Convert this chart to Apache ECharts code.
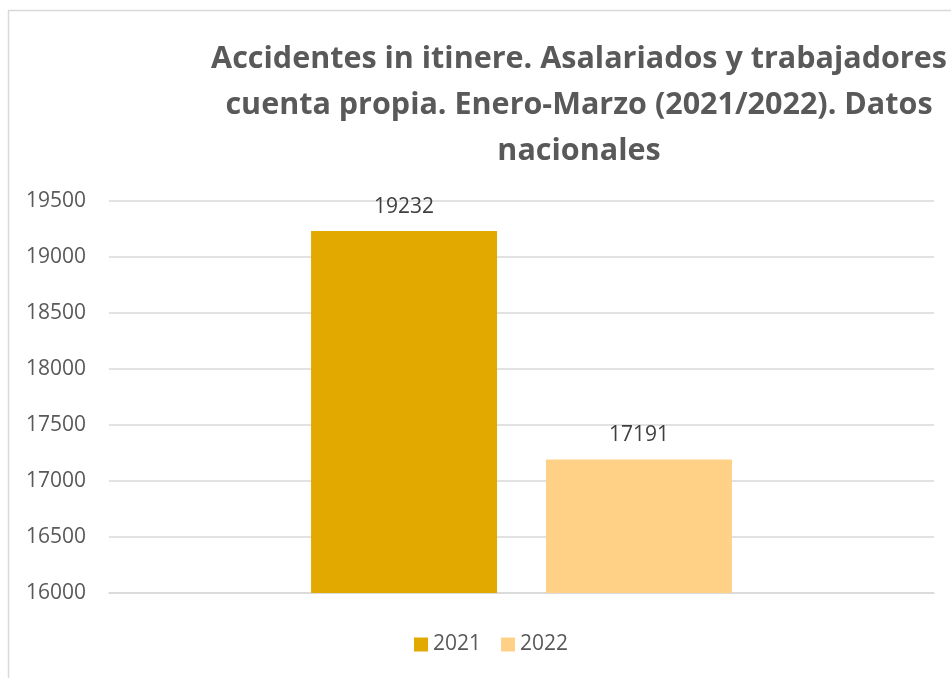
<!DOCTYPE html>
<html><head><meta charset="utf-8">
<script src="https://cdn.jsdelivr.net/npm/echarts@6/dist/echarts.min.js"></script>
<style>html,body{margin:0;padding:0;background:#fff}#c{width:951px;height:678px}</style>
</head><body><div id="c"></div>
<script>
const titleText = 'Accidentes in itinere. Asalariados y trabajadores\ncuenta propia. Enero-Marzo (2021/2022). Datos\nnacionales';
const categories = [''];
const seriesNames = ['2021', '2022'];
const values2021 = [19232];
const values2022 = [17191];
const yMin = 16000, yMax = 19500, yStep = 500;

const chart = echarts.init(document.getElementById('c'));
const font = 'Open Sans';
chart.setOption({
  animation: false,
  backgroundColor: '#fff',
  graphic: [{
    type: 'rect', shape: {x: 8.5, y: 10.5, width: 1200, height: 1000},
    style: {fill: 'none', stroke: '#d9d9d9', lineWidth: 1.5}, silent: true
  }],
  title: {
    text: titleText, left: 574, top: 31, textAlign: 'center',
    textStyle: {fontFamily: font, fontWeight: 'bold', fontSize: 30.5, color: '#595959', lineHeight: 46}
  },
  legend: {
    data: seriesNames, left: 414, top: 634, itemWidth: 14, itemHeight: 14, itemGap: 20,
    icon: 'rect', textStyle: {fontFamily: font, fontSize: 21, color: '#595959'}, padding: [0, 0, 0, 0]
  },
  grid: {left: 109, right: 17, top: 201, bottom: 85},
  xAxis: {
    type: 'category', data: categories,
    axisLine: {lineStyle: {color: '#d9d9d9', width: 1.5}}, axisTick: {show: false}, axisLabel: {show: false}
  },
  yAxis: {
    type: 'value', min: yMin, max: yMax, interval: yStep,
    axisLine: {show: false}, axisTick: {show: false},
    axisLabel: {fontFamily: font, fontSize: 21, color: '#595959', margin: 23, formatter: v => String(v)},
    splitLine: {lineStyle: {color: '#d9d9d9', width: 1.5}}
  },
  series: [
    {name: seriesNames[0], type: 'bar', data: values2021, barWidth: 186, barGap: '26.3%',
     itemStyle: {color: '#E2AA00'},
     label: {show: true, position: 'top', distance: 14, fontFamily: font, fontSize: 21, color: '#404040'}},
    {name: seriesNames[1], type: 'bar', data: values2022, barWidth: 186,
     itemStyle: {color: '#FFD187'},
     label: {show: true, position: 'top', distance: 14, fontFamily: font, fontSize: 21, color: '#404040'}}
  ]
});
</script></body></html>
